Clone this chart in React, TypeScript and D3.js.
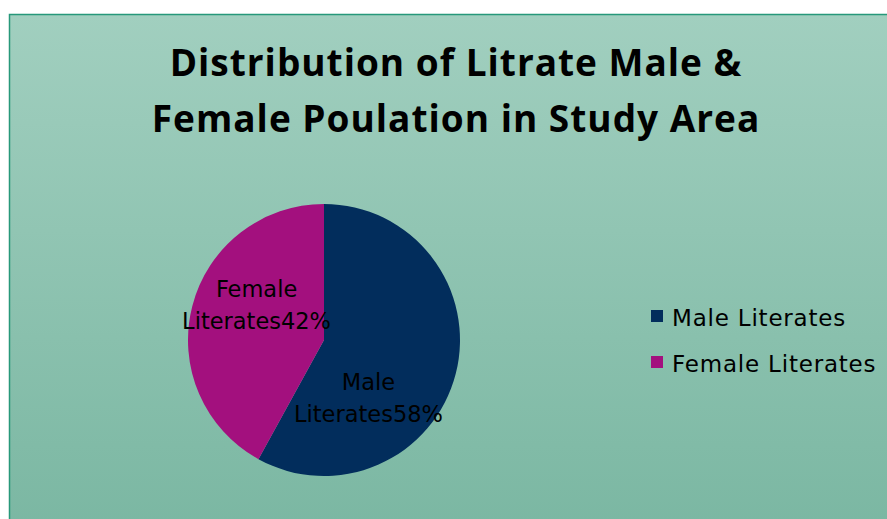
import React from "react";
import * as d3 from "d3";

const categories = ["Male Literates", "Female Literates"];
const values = [58, 42];
const colors = ["#022d5c", "#a3107e"];
const titleLines = ["Distribution of Litrate Male &", "Female Poulation in Study Area"];

export default function App() {
  const W = 887, H = 519;
  const cx = 324, cy = 340, r = 136;
  const pie = d3.pie<number>().sort(null).value((d) => d);
  const arcs = pie(values);
  const arc = d3.arc<d3.PieArcDatum<number>>().innerRadius(0).outerRadius(r);
  const labelArc = d3.arc<d3.PieArcDatum<number>>().innerRadius(r * 0.55).outerRadius(r * 0.55);
  // manual nudges to mimic best-fit placement
  const nudges = [[-28, 39], [5, -16]];
  const font = "'DejaVu Sans', sans-serif";
  return (
    <svg width={W} height={H} style={{ position: "absolute", left: 0, top: 0 }}>
      <defs>
        <linearGradient id="bg" x1="0" y1="0" x2="0" y2="1">
          <stop offset="0" stopColor="#a1cfbf" />
          <stop offset="1" stopColor="#79b6a1" />
        </linearGradient>
      </defs>
      <rect x={0} y={0} width={W} height={H} fill="#fff" />
      <rect x={9.5} y={14.5} width={W + 20} height={H + 20} fill="url(#bg)" stroke="#27987a" strokeWidth={1.5} />
      {titleLines.map((t, i) => (
        <text key={i} x={456} y={76 + i * 56} textAnchor="middle" fontFamily="'Open Sans', 'Liberation Sans', sans-serif"
          fontWeight={700} fontSize={37} letterSpacing={1} fill="#000">{t}</text>
      ))}
      <g transform={`translate(${cx},${cy})`}>
        {arcs.map((a, i) => (
          <path key={i} d={arc(a) || ""} fill={colors[i]} />
        ))}
        {arcs.map((a, i) => {
          const [x, y] = labelArc.centroid(a);
          const nx = x + nudges[i][0], ny = y + nudges[i][1];
          const words = categories[i].split(" ");
          return (
            <text key={i} x={nx} y={ny} textAnchor="middle" fontFamily={font} fontSize={22.5} fill="#000">
              <tspan x={nx} dy={-8}>{words[0]}</tspan>
              <tspan x={nx} dy={32}>{words[1] + values[i] + "%"}</tspan>
            </text>
          );
        })}
      </g>
      {categories.map((c, i) => (
        <g key={c} transform={`translate(651,${310 + i * 46})`}>
          <rect x={0} y={0} width={12} height={12} fill={colors[i]} />
          <text x={21} y={15.5} fontFamily={font} fontSize={23} letterSpacing={0.8} fill="#000">{c}</text>
        </g>
      ))}
    </svg>
  );
}
